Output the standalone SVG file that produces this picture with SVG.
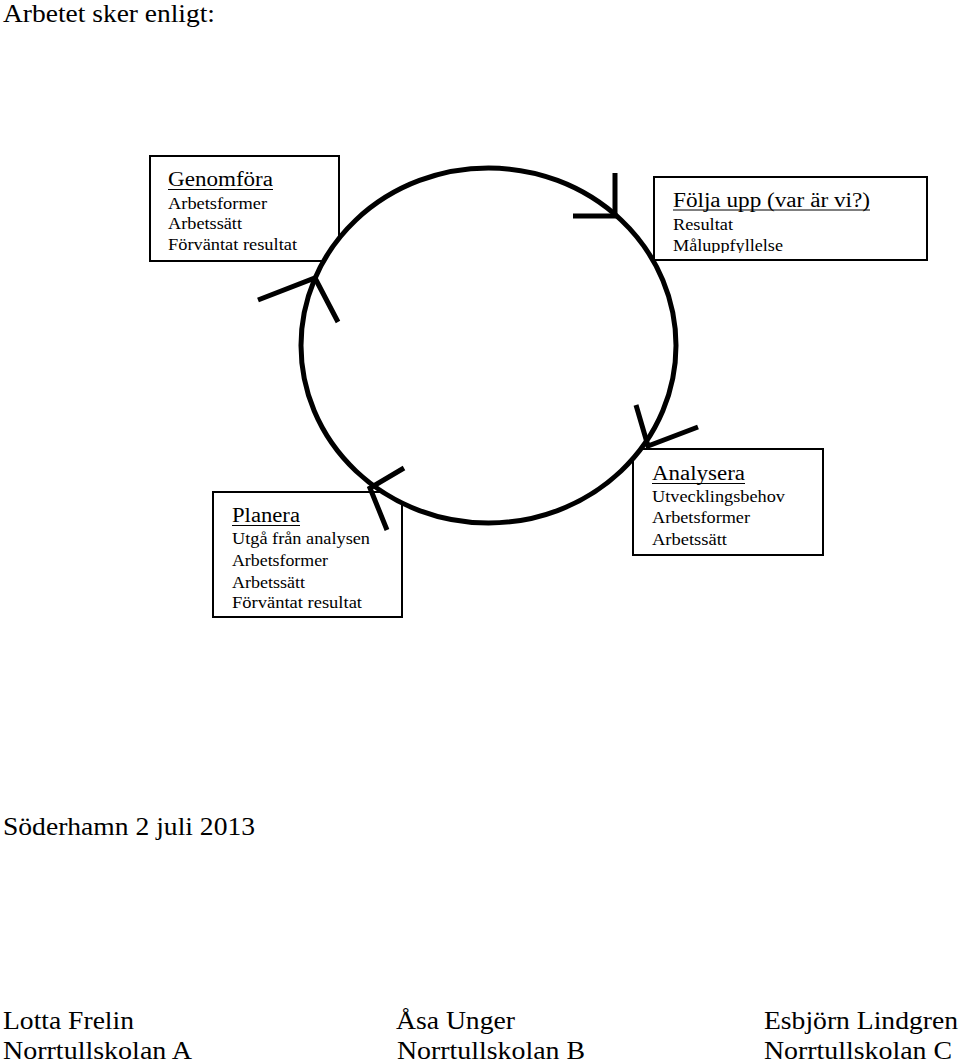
<svg xmlns="http://www.w3.org/2000/svg" width="960" height="1063" viewBox="0 0 960 1063">
  <style>
    text { font-family: "Liberation Serif", "Times New Roman", serif; fill: #000; }
    .big { font-size: 26px; }
    .head { font-size: 20px; }
    .sub { font-size: 16px; }
    .box { fill: #fff; stroke: #000; stroke-width: 2; }
    .ul { stroke: #000; stroke-width: 1.2; }
    .cyc { fill: #fff; stroke: #000; stroke-width: 5; }
    .arr { fill: none; stroke: #000; stroke-width: 5; stroke-linecap: butt; stroke-linejoin: miter; }
  </style>
  <defs>
    <clipPath id="clipFolja">
      <rect x="654" y="177" width="273" height="76"/>
    </clipPath>
  </defs>
  <rect width="960" height="1063" fill="#fff"/>

  <text class="big" x="3" y="22" textLength="212" lengthAdjust="spacingAndGlyphs">Arbetet sker enligt:</text>

  <g id="node-genomfora">
    <rect class="box" x="150" y="156" width="189" height="105"/>
    <text class="head" x="168" y="186" textLength="105" lengthAdjust="spacingAndGlyphs">Genomföra</text>
    <line class="ul" x1="168" y1="189.5" x2="273" y2="189.5"/>
    <text class="sub" x="168" y="209" textLength="99" lengthAdjust="spacingAndGlyphs">Arbetsformer</text>
    <text class="sub" x="168" y="229" textLength="74" lengthAdjust="spacingAndGlyphs">Arbetssätt</text>
    <text class="sub" x="168" y="250" textLength="129" lengthAdjust="spacingAndGlyphs">Förväntat resultat</text>
  </g>

  <g id="node-folja-upp">
    <rect class="box" x="654" y="177" width="273" height="83"/>
    <text class="head" x="673" y="207" textLength="197" lengthAdjust="spacingAndGlyphs">Följa upp (var är vi?)</text>
    <line class="ul" x1="673" y1="210" x2="870" y2="210"/>
    <text class="sub" x="673" y="230" textLength="60" lengthAdjust="spacingAndGlyphs">Resultat</text>
    <text class="sub" x="673" y="251" textLength="110" lengthAdjust="spacingAndGlyphs" clip-path="url(#clipFolja)">Måluppfyllelse</text>
  </g>

  <g id="node-planera">
    <rect class="box" x="213" y="492" width="189" height="125"/>
    <text class="head" x="232" y="522" textLength="68" lengthAdjust="spacingAndGlyphs">Planera</text>
    <line class="ul" x1="232" y1="525.5" x2="300" y2="525.5"/>
    <text class="sub" x="232" y="544" textLength="138" lengthAdjust="spacingAndGlyphs">Utgå från analysen</text>
    <text class="sub" x="232" y="566" textLength="96" lengthAdjust="spacingAndGlyphs">Arbetsformer</text>
    <text class="sub" x="232" y="588" textLength="73" lengthAdjust="spacingAndGlyphs">Arbetssätt</text>
    <text class="sub" x="232" y="608" textLength="130" lengthAdjust="spacingAndGlyphs">Förväntat resultat</text>
  </g>

  <g id="node-analysera">
    <rect class="box" x="633" y="449" width="190" height="106"/>
    <text class="head" x="652" y="480" textLength="93" lengthAdjust="spacingAndGlyphs">Analysera</text>
    <line class="ul" x1="652" y1="483.5" x2="745" y2="483.5"/>
    <text class="sub" x="652" y="502" textLength="133" lengthAdjust="spacingAndGlyphs">Utvecklingsbehov</text>
    <text class="sub" x="652" y="523" textLength="98" lengthAdjust="spacingAndGlyphs">Arbetsformer</text>
    <text class="sub" x="652" y="545" textLength="75" lengthAdjust="spacingAndGlyphs">Arbetssätt</text>
  </g>

  <g id="connectors">
    <ellipse class="cyc" cx="488.5" cy="345.5" rx="187.5" ry="177.5"/>
    <polyline class="arr" points="615,173 615,216 573,216"/>
    <polyline class="arr" points="258,300 315,278 338,322"/>
    <polyline class="arr" points="404,468 370,488 387,530"/>
    <polyline class="arr" points="636,405 648,446 698,427"/>
  </g>

  <g id="footer">
    <text class="big" x="3" y="835" textLength="252" lengthAdjust="spacingAndGlyphs">Söderhamn 2 juli 2013</text>
    <text class="big" x="3" y="1029" textLength="131" lengthAdjust="spacingAndGlyphs">Lotta Frelin</text>
    <text class="big" x="3" y="1059" textLength="189" lengthAdjust="spacingAndGlyphs">Norrtullskolan A</text>
    <text class="big" x="396" y="1029" textLength="119" lengthAdjust="spacingAndGlyphs">Åsa Unger</text>
    <text class="big" x="397" y="1059" textLength="188" lengthAdjust="spacingAndGlyphs">Norrtullskolan B</text>
    <text class="big" x="764" y="1029" textLength="194" lengthAdjust="spacingAndGlyphs">Esbjörn Lindgren</text>
    <text class="big" x="764" y="1059" textLength="188" lengthAdjust="spacingAndGlyphs">Norrtullskolan C</text>
  </g>
</svg>
